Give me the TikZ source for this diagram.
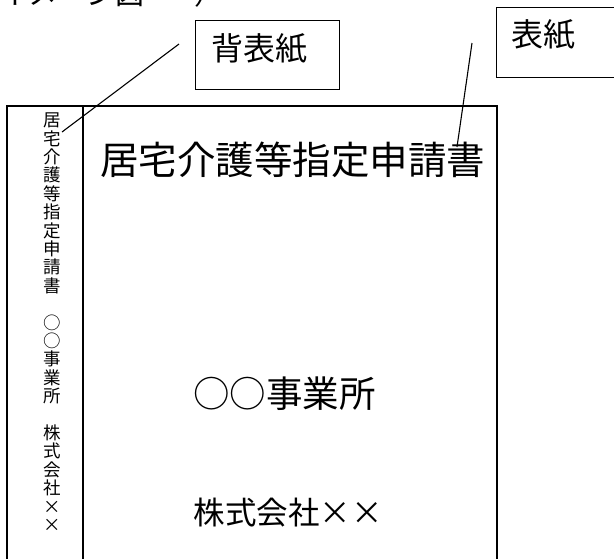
\documentclass[tikz,border=0pt]{standalone}
\usepackage{fontspec}
\newfontfamily\cjk{Noto Sans CJK JP}
\newcommand\fx{\makebox[1em]{×}}
\tikzset{
  frame/.style={draw=black, line width=1.1pt},
  labelbox/.style={draw=black, line width=1.1pt, fill=white, inner sep=0pt},
  leader/.style={draw=black, line width=1.1pt},
  txt/.style={inner sep=0pt, anchor=base west},
  spinech/.style={inner sep=0pt, anchor=base, font=\cjk\fontsize{17.5}{18}\selectfont},
}
\begin{document}
\begin{tikzpicture}[x=1pt,y=-1pt]
\useasboundingbox (0,0) rectangle (614,558);
\clip (0,0) rectangle (614,558);
% caption cut off at the top edge
\node[txt, font=\cjk\fontsize{29}{29}\selectfont] (cap) at (-0.5,4.5) {イメージ図};
\node[txt, font=\cjk\fontsize{29}{29}\selectfont] (capp) at (194,4.5) {）};
% cover outline
\coordinate (tl) at (7,106);
\coordinate (br) at (497,600);
\coordinate (dvt) at (83,106);
\coordinate (dvb) at (83,600);
\draw[frame] (tl) rectangle (br);
\draw[frame] (dvt) -- (dvb);
% spine text
\foreach \c [count=\i] in {居,宅,介,護,等,指,定,申,請,書,{},○,○,事,業,所,{},株,式,会,社,×,×}
  \node[spinech] (s\i) at (52,{126.6+(\i-1)*18.4}) {\c};
% cover texts
\node[txt, font=\cjk\fontsize{38.5}{38.5}\selectfont] (title) at (100,174.5) {居宅介護等指定申請書};
\node[txt, font=\cjk\fontsize{36.5}{36.5}\selectfont] (office) at (193,407.5) {○○事業所};
\node[txt, font=\cjk\fontsize{31.5}{31.5}\selectfont] (company) at (193.5,524) {株式会社\fx\fx};
% label boxes
\node[labelbox, anchor=north west, minimum width=144pt, minimum height=69pt] (sebox) at (195,20) {};
\node[txt, font=\cjk\fontsize{32}{32}\selectfont] (setext) at (211.5,60) {背表紙};
\node[labelbox, anchor=north west, minimum width=140pt, minimum height=70pt] (hybox) at (496,7) {};
\node[txt, font=\cjk\fontsize{32}{32}\selectfont] (hytext) at (511,46) {表紙};
% leaders
\coordinate (seA) at (179,44);
\coordinate (seB) at (62,132);
\coordinate (hyA) at (472,43);
\coordinate (hyB) at (457,147);
\draw[leader] (seA) -- (seB);
\draw[leader] (hyA) -- (hyB);
\end{tikzpicture}
\end{document}
